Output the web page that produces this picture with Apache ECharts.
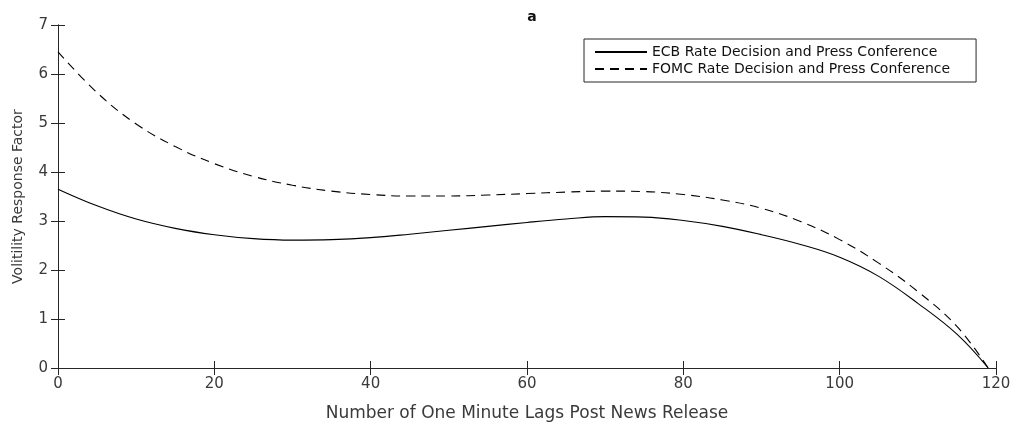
<!DOCTYPE html>
<html>
<head>
<meta charset="utf-8">
<script src="https://cdn.jsdelivr.net/npm/echarts@6/dist/echarts.min.js"></script>
<style>
  html, body { margin: 0; padding: 0; background: #fff; }
  #chart { width: 1014px; height: 427px; }
</style>
</head>
<body>
<div id="chart"></div>
<script>
// Minutes after the news release
const lags = [0, 5, 10, 15, 20, 25, 30, 35, 40, 45, 50, 55, 60, 65, 70, 75, 80, 85, 90, 95, 100, 105, 110, 115, 119];
// Volatility response factor, ECB rate decision and press conference
const ecb = [3.65, 3.31, 3.04, 2.85, 2.72, 2.64, 2.61, 2.62, 2.66, 2.73, 2.81, 2.89, 2.97, 3.04, 3.09, 3.08, 3.01, 2.89, 2.72, 2.52, 2.26, 1.87, 1.32, 0.69, 0.00];
// Volatility response factor, FOMC rate decision and press conference
const fomc = [6.45, 5.62, 4.98, 4.52, 4.17, 3.91, 3.73, 3.61, 3.54, 3.51, 3.51, 3.53, 3.56, 3.59, 3.61, 3.60, 3.54, 3.43, 3.26, 2.99, 2.62, 2.14, 1.56, 0.85, 0.00];

const xTicks = [0, 20, 40, 60, 80, 100, 120];
const yTicks = [0, 1, 2, 3, 4, 5, 6, 7];
const seriesNames = ['ECB Rate Decision and Press Conference', 'FOMC Rate Decision and Press Conference'];

const ink = '#262626';
const txt = '#3a3a3a';
const font = 'DejaVu Sans';

const pairs = (ys) => lags.map((x, i) => [x, ys[i]]);

const axisCommon = {
  axisLine: { show: true, lineStyle: { color: ink, width: 1 } },
  axisTick: { show: true, inside: true, length: 7, lineStyle: { color: ink, width: 1 } },
  splitLine: { show: false }
};

const chart = echarts.init(document.getElementById('chart'), null, { renderer: 'canvas' });
chart.setOption({
  animation: false,
  backgroundColor: '#fff',
  title: {
    text: 'a',
    left: 527, top: 5, textAlign: 'center',
    textStyle: { fontFamily: font, fontSize: 14, fontWeight: 'bold', color: '#111' }
  },
  grid: { left: 58, right: 18, top: 25, bottom: 51 },
  legend: {
    left: 584, top: 39,
    orient: 'vertical',
    data: seriesNames,
    itemWidth: 52, itemHeight: 10, itemGap: 3,
    padding: [6, 26, 6, 10],
    borderColor: ink, borderWidth: 1,
    backgroundColor: '#fff',
    itemStyle: { opacity: 0 },
    textStyle: { fontFamily: font, fontSize: 14, color: '#111' }
  },
  xAxis: [
    Object.assign({
      type: 'value', min: xTicks[0], max: xTicks[xTicks.length - 1], interval: 20,
      position: 'bottom',
      name: 'Number of One Minute Lags Post News Release',
      nameLocation: 'middle', nameGap: 37,
      nameTextStyle: { fontFamily: font, fontSize: 17, color: txt },
      axisLabel: { fontFamily: font, fontSize: 15, color: txt, margin: 9 }
    }, axisCommon),
    Object.assign({
      type: 'value', min: xTicks[0], max: xTicks[xTicks.length - 1], interval: 20,
      position: 'top',
      axisLabel: { show: false }
    }, axisCommon)
  ],
  yAxis: [
    Object.assign({
      type: 'value', min: yTicks[0], max: yTicks[yTicks.length - 1], interval: 1,
      position: 'left',
      name: 'Volitility Response Factor',
      nameLocation: 'middle', nameGap: 33,
      nameTextStyle: { fontFamily: font, fontSize: 14, color: txt },
      axisLabel: { fontFamily: font, fontSize: 15, color: txt, margin: 10 }
    }, axisCommon),
    Object.assign({
      type: 'value', min: yTicks[0], max: yTicks[yTicks.length - 1], interval: 1,
      position: 'right',
      axisLabel: { show: false }
    }, axisCommon)
  ],
  series: [
    {
      name: seriesNames[0], type: 'line', xAxisIndex: 0, yAxisIndex: 0,
      data: pairs(ecb), smooth: 0.4, symbol: 'none',
      lineStyle: { color: '#000', width: 1.1, type: 'solid' },
      itemStyle: { color: '#000' }
    },
    {
      name: seriesNames[1], type: 'line', xAxisIndex: 0, yAxisIndex: 0,
      data: pairs(fomc), smooth: 0.4, symbol: 'none',
      lineStyle: { color: '#000', width: 1.1, type: [9, 6] },
      itemStyle: { color: '#000' }
    }
  ]
});
</script>
</body>
</html>
